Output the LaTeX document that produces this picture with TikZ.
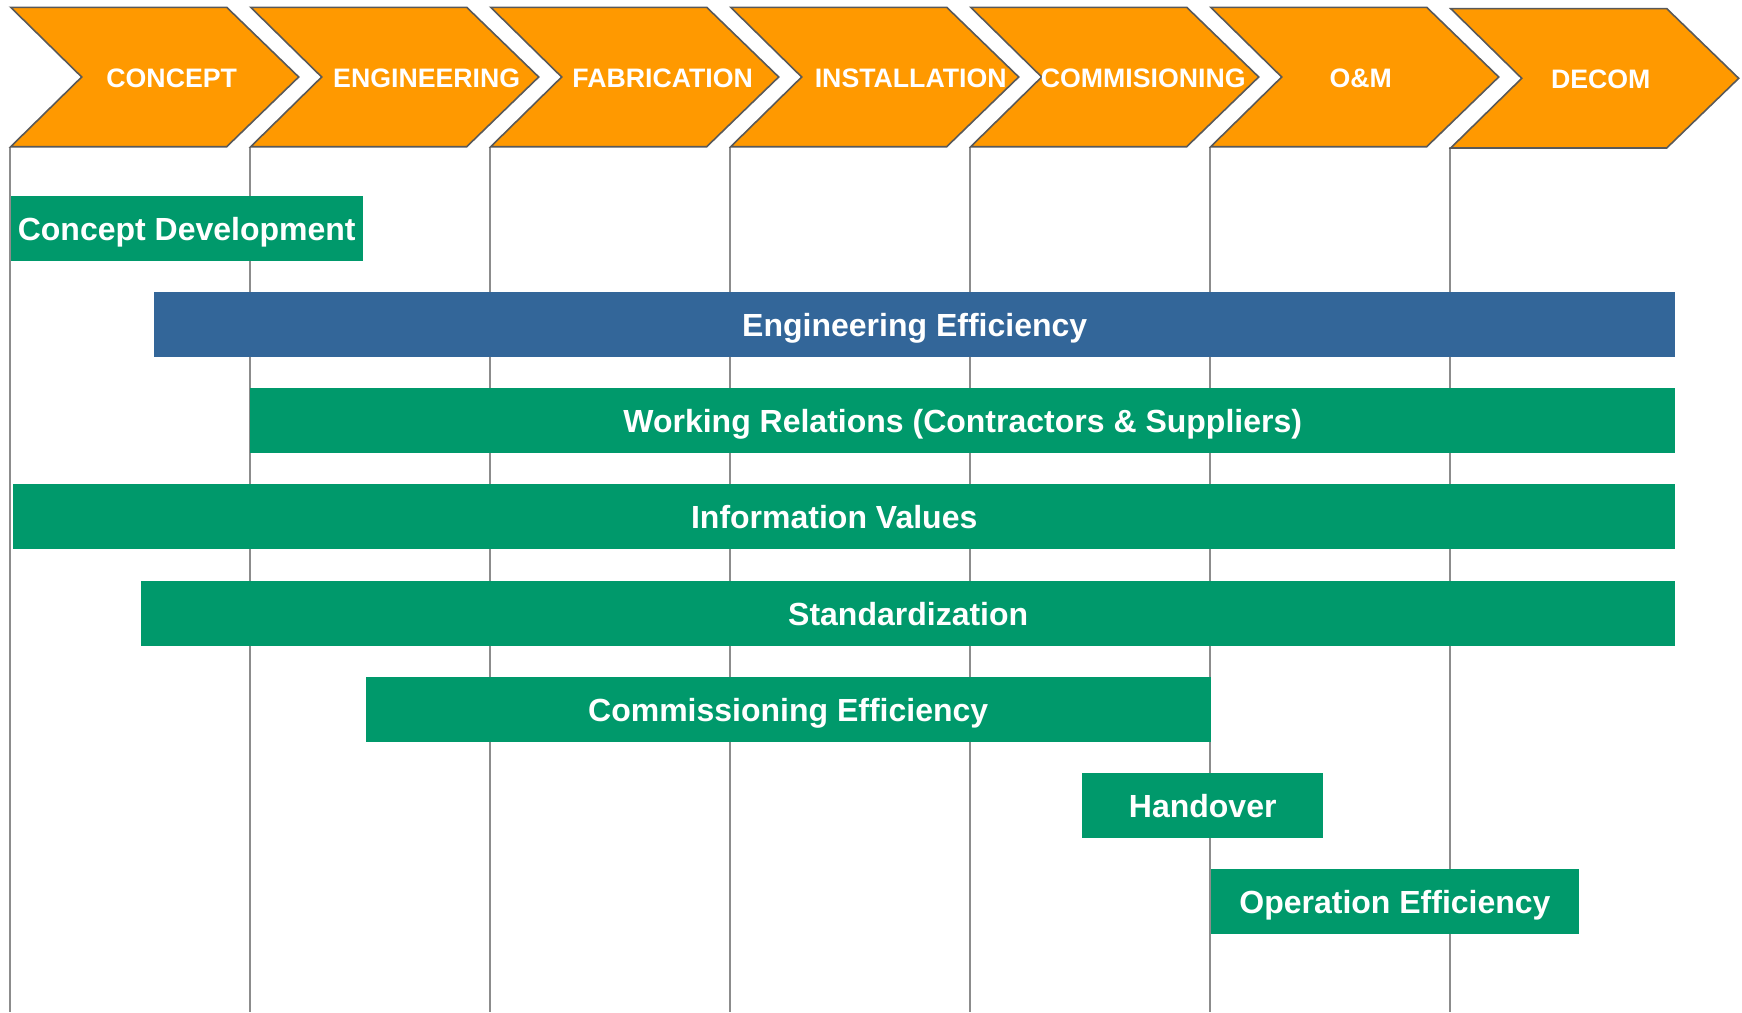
\documentclass[tikz,border=0pt]{standalone}
\usepackage{fontspec}
\setmainfont{Liberation Sans}
\usepackage{tikz}
\definecolor{phaseorange}{RGB}{255,153,0}
\definecolor{barteal}{RGB}{0,153,107}
\definecolor{barblue}{RGB}{51,102,153}
\tikzset{
  phase/.style = {fill = phaseorange, draw = black!65, line width = 1.6pt, line join = miter},
  phaselabel/.style = {text = white, inner sep = 0pt, font = \fontsize{26.7}{30}\selectfont\bfseries},
  gridline/.style = {draw = black!45, line width = 1.8pt},
  bar/.style = {fill = barteal, text = white, inner sep = 0pt, anchor = north west,
    minimum height = 65pt, text height = 28pt, text depth = 5.4pt,
    font = \fontsize{32}{36}\selectfont\bfseries},
}

\begin{document}
\begin{tikzpicture}[x = 1pt, y = -1pt]
  \useasboundingbox (0,0) rectangle (1742,1012);
  \foreach \i in {0,...,6}
    \draw[gridline] (10.3+240*\i,147) -- (10.3+240*\i,1012);
  \foreach \i/\name/\txt/\dx/\dy in {0/concept/CONCEPT/161/0, 1/engineering/ENGINEERING/176/0,
      2/fabrication/FABRICATION/172/0, 3/installation/INSTALLATION/180/0,
      4/commisioning/COMMISIONING/172.5/0, 5/om/O\&M/150/0, 6/decom/DECOM/150/1.3}
  {
    \pgfmathsetmacro{\xa}{10.7+240*\i}
    \draw[phase] (\xa,7.3+\dy) -- ++(216,0) -- ++(72,69.7) -- ++(-72,69.7)
      -- ++(-216,0) -- ++(71,-69.7) -- cycle;
    \node[phaselabel] (\name) at (\xa+\dx,78.5+\dy) {\txt};
  }
  \node[bar, minimum width = 352.5pt] (conceptdev) at (10.3,196) {Concept Development};
  \node[bar, fill = barblue, minimum width = 1521pt] (engeff) at (154,292) {Engineering Efficiency};
  \node[bar, minimum width = 1425pt] (workrel) at (250,388) {Working Relations (Contractors \& Suppliers)};
  \node[bar, minimum width = 1662pt] (infoval) at (13,484) {\hspace*{-20pt}Information Values};
  \node[bar, minimum width = 1534pt] (standard) at (141,581) {Standardization};
  \node[bar, minimum width = 845pt] (commeff) at (365.5,677) {Commissioning Efficiency};
  \node[bar, minimum width = 241pt] (handover) at (1082,773) {Handover};
  \node[bar, minimum width = 368.5pt] (opeff) at (1210.5,869) {Operation Efficiency};
\end{tikzpicture}
\end{document}
